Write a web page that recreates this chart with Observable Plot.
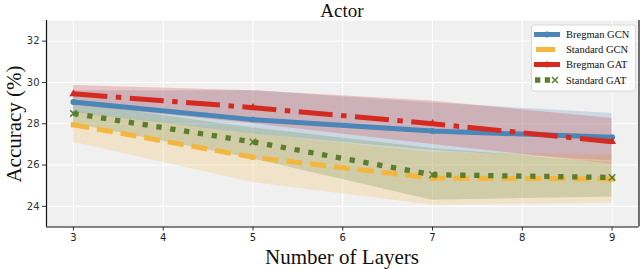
<!DOCTYPE html>
<html>
<head>
<meta charset="utf-8">
<script src="https://cdn.jsdelivr.net/npm/d3@7"></script>
<script src="https://cdn.jsdelivr.net/npm/@observablehq/plot@0.6"></script>
<style>
  html, body { margin: 0; padding: 0; background: #fff; }
  #chart { width: 640px; height: 269px; }
</style>
</head>
<body>
<div id="chart"></div>
<script>
// ---- data ----
const layers = [3, 5, 7, 9];
const seriesNames = ["Bregman GCN", "Standard GCN", "Bregman GAT", "Standard GAT"];
const bregmanGCN      = [29.05, 28.20, 27.65, 27.35];
const bregmanGCNLow   = [28.55, 27.50, 26.70, 26.20];
const bregmanGCNHigh  = [29.60, 29.60, 29.00, 28.50];
const standardGCN     = [27.95, 26.38, 25.37, 25.33];
const standardGCNLow  = [27.10, 25.15, 24.05, 24.15];
const standardGCNHigh = [28.60, 27.50, 26.60, 26.50];
const bregmanGAT      = [29.45, 28.78, 28.00, 27.13];
const bregmanGATLow   = [28.90, 28.00, 27.00, 26.05];
const bregmanGATHigh  = [29.85, 29.60, 29.10, 28.25];
const standardGAT     = [28.50, 27.12, 25.53, 25.40];
const standardGATLow  = [28.00, 26.30, 24.30, 24.45];
const standardGATHigh = [29.00, 27.80, 26.80, 26.10];
const xTicks = [3, 4, 5, 6, 7, 8, 9];
const yTicks = [24, 26, 28, 30, 32];

// ---- styles ----
const colors = ["#4a86b8", "#f3b63e", "#d42a22", "#5a7d2e"];
const dashes = [null, "16,8", "34,8.5,5.5,8.5", "5.3,8.7"];
const widths = [5, 5, 5, 5.3];
const symbols = ["circle", "square", "triangle", "times"];

const means = [bregmanGCN, standardGCN, bregmanGAT, standardGAT];
const lows  = [bregmanGCNLow, standardGCNLow, bregmanGATLow, standardGATLow];
const highs = [bregmanGCNHigh, standardGCNHigh, bregmanGATHigh, standardGATHigh];

const rows = [];
seriesNames.forEach((name, i) => {
  layers.forEach((L, j) => {
    rows.push({series: name, idx: i, layers: L, mean: means[i][j], low: lows[i][j], high: highs[i][j]});
  });
});

const serif = "'Liberation Serif', 'DejaVu Serif', serif";
const sans = "'DejaVu Sans', sans-serif";

const marks = [
  Plot.frame({fill: "#f0f0f0", stroke: null}),
  Plot.gridX(xTicks, {stroke: "#fff", strokeOpacity: 1, strokeWidth: 1}),
  Plot.gridY(yTicks, {stroke: "#fff", strokeOpacity: 1, strokeWidth: 1}),
];
seriesNames.forEach((name, i) => {
  marks.push(Plot.areaY(rows.filter(d => d.idx === i), {
    x: "layers", y1: "low", y2: "high", fill: colors[i], fillOpacity: 0.22
  }));
});
seriesNames.forEach((name, i) => {
  const d = rows.filter(r => r.idx === i);
  marks.push(Plot.line(d, {
    x: "layers", y: "mean", stroke: colors[i], strokeWidth: widths[i],
    strokeDasharray: dashes[i], strokeLinecap: "butt", strokeLinejoin: "round"
  }));
  marks.push(Plot.dot(d, {
    x: "layers", y: "mean", symbol: symbols[i], r: 3,
    fill: symbols[i] === "times" ? "none" : colors[i],
    stroke: colors[i], strokeWidth: symbols[i] === "times" ? 1.5 : 0
  }));
});
// spines
marks.push(Plot.ruleX([2.7], {stroke: "#111", strokeWidth: 1.2}));
marks.push(Plot.ruleX([9.3], {stroke: "#111", strokeWidth: 1.2}));
marks.push(Plot.ruleY([23], {stroke: "#111", strokeWidth: 1.2}));
marks.push(Plot.axisX(xTicks, {
  tickSize: 4, tickPadding: 3, fontSize: 10, fontFamily: sans, color: "#222", stroke: "#333",
  label: null
}));
marks.push(Plot.axisY(yTicks, {
  tickSize: 4, tickPadding: 3, fontSize: 10, fontFamily: sans, color: "#333", stroke: "#333",
  label: null
}));

const chart = Plot.plot({
  width: 640,
  height: 269,
  marginLeft: 46,
  marginRight: 1.5,
  marginTop: 20,
  marginBottom: 42.5,
  style: {background: "#fff", overflow: "visible"},
  x: {domain: [2.7, 9.3], ticks: xTicks},
  y: {domain: [23, 33], ticks: yTicks},
  marks
});
document.getElementById("chart").appendChild(chart);

// titles and legend
const svg = d3.select(chart);
svg.append("text").attr("x", 342).attr("y", 17).attr("text-anchor", "middle")
  .style("font-family", serif).style("font-size", "19px").attr("fill", "#111").text("Actor");
svg.append("text").attr("x", 342).attr("y", 264).attr("text-anchor", "middle")
  .style("font-family", serif).style("font-size", "21px").attr("fill", "#111").text("Number of Layers");
svg.append("text").attr("transform", "translate(21,124) rotate(-90)").attr("text-anchor", "middle")
  .style("font-family", serif).style("font-size", "21px").attr("fill", "#111").text("Accuracy (%)");

const lg = svg.append("g");
lg.append("rect").attr("x", 531.5).attr("y", 25).attr("width", 104).attr("height", 66)
  .attr("rx", 2.5).attr("fill", "#fff").attr("fill-opacity", 0.85).attr("stroke", "#d0d0d0").attr("stroke-width", 0.8);
const rowY = [34.5, 49.5, 64.5, 80];
seriesNames.forEach((name, i) => {
  const y = rowY[i];
  if (i === 1) {
    lg.append("line").attr("x1", 536).attr("x2", 555).attr("y1", y).attr("y2", y)
      .attr("stroke", colors[i]).attr("stroke-width", widths[i]);
  } else if (i === 3) {
    lg.append("line").attr("x1", 535).attr("x2", 551).attr("y1", y).attr("y2", y)
      .attr("stroke", colors[i]).attr("stroke-width", widths[i]).attr("stroke-dasharray", "5.3,4.5");
    lg.append("path").attr("d", `M${555-3},${y-3}L${555+3},${y+3}M${555-3},${y+3}L${555+3},${y-3}`)
      .attr("stroke", colors[i]).attr("stroke-width", 1.5).attr("fill", "none");
  } else {
    lg.append("line").attr("x1", 534).attr("x2", 560).attr("y1", y).attr("y2", y)
      .attr("stroke", colors[i]).attr("stroke-width", widths[i]);
    lg.append("circle").attr("cx", 547).attr("cy", y).attr("r", 3).attr("fill", colors[i]);
  }
  lg.append("text").attr("x", 566).attr("y", y + 3.5).attr("text-anchor", "start")
    .style("font-family", serif).style("font-size", "10.5px")
    .attr("fill", "#111").text(name);
});
</script>
</body>
</html>
